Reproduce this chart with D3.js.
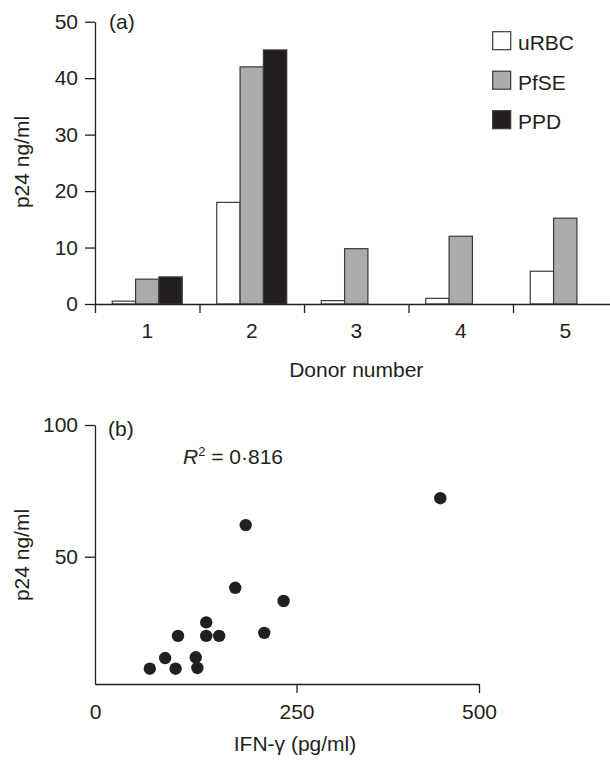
<!DOCTYPE html>
<html>
<head>
<meta charset="utf-8">
<script src="https://cdn.jsdelivr.net/npm/d3@7"></script>
<style>
  html, body { margin: 0; padding: 0; background: #fff; }
  svg { display: block; }
  text { font-family: "Liberation Sans", Arial, Helvetica, sans-serif; fill: #231f20; }
</style>
</head>
<body>
<script>
// ---------- DATA ----------
const donors = [1, 2, 3, 4, 5];
const seriesNames = ["uRBC", "PfSE", "PPD"];
const uRBC = [0.5, 18, 0.6, 1.0, 5.8];
const PfSE = [4.4, 42, 9.8, 12, 15.2];
const PPD  = [4.8, 45, null, null, null];
const yTicksA = [0, 10, 20, 30, 40, 50];

const ifnGamma = [68, 87, 100, 103, 125, 127, 138, 138, 154, 174, 187, 210, 234, 447];
const p24      = [6.0, 10.2, 6.0, 18.9, 10.5, 6.3, 24.2, 18.9, 18.9, 37.8, 62.0, 20.1, 32.6, 72.2];
const xTicksB = [0, 250, 500];
const yTicksB = [50, 100];

// ---------- SETUP ----------
const W = 610, H = 760;
const ink = "#231f20";
const fills = { uRBC: "#ffffff", PfSE: "#ababad", PPD: "#231f20" };
const FS = 21;

const svg = d3.select("body").append("svg").attr("width", W).attr("height", H);

// ================= PANEL (a) =================
const xA = d3.scaleLinear().domain([0.5, 5.5]).range([95, 617.5]);
const yA = d3.scaleLinear().domain([0, 50]).range([304, 21.7]);
const xSub = d3.scaleBand().domain(seriesNames).range([-35, 35]);
const valuesBySeries = { uRBC, PfSE, PPD };

const gA = svg.append("g");

// bars
seriesNames.forEach(s => {
  const data = donors.map((d, i) => ({ donor: d, v: valuesBySeries[s][i] })).filter(o => o.v != null);
  gA.selectAll(null).data(data).enter().append("rect")
    .attr("x", o => xA(o.donor) + xSub(s))
    .attr("y", o => yA(o.v))
    .attr("width", xSub.bandwidth())
    .attr("height", o => yA(0) - yA(o.v))
    .attr("fill", fills[s])
    .attr("stroke", "#3a3a3a")
    .attr("stroke-width", 1.2);
});

// y axis (a)
const yAxisA = d3.axisLeft(yA).tickValues(yTicksA).tickSize(10).tickSizeOuter(0).tickPadding(7);
gA.append("g").attr("transform", `translate(${xA(0.5)},0)`).call(yAxisA);

// x axis (a): boundary ticks
const boundaries = d3.range(0.5, 6, 1);
const xAxisA = d3.axisBottom(xA).tickValues(boundaries).tickSize(9).tickSizeOuter(0).tickFormat("");
gA.append("g").attr("transform", `translate(0,${yA(0)})`).call(xAxisA);
// category labels
gA.selectAll(null).data(donors).enter().append("text")
  .attr("x", d => xA(d)).attr("y", 338)
  .attr("text-anchor", "middle").attr("font-size", FS)
  .text(d => d);

// axis titles (a)
gA.append("text").attr("x", (xA.range()[0] + xA.range()[1]) / 2).attr("y", 377)
  .attr("text-anchor", "middle").attr("font-size", FS).text("Donor number");
gA.append("text").attr("transform", "translate(29,162) rotate(-90)")
  .attr("text-anchor", "middle").attr("font-size", FS).text("p24 ng/ml");
gA.append("text").attr("x", 109).attr("y", 29).attr("font-size", FS).text("(a)");

// legend
const leg = gA.append("g");
seriesNames.forEach((s, i) => {
  const yy = 31.7 + i * 39.5;
  leg.append("rect").attr("x", 492.7).attr("y", yy).attr("width", 18).attr("height", 18)
    .attr("fill", fills[s]).attr("stroke", "#3a3a3a").attr("stroke-width", 1.2);
  leg.append("text").attr("x", 518).attr("y", yy + 18.5).attr("font-size", FS).text(s);
});

// ================= PANEL (b) =================
const xB = d3.scaleLinear().domain([0, 250, 500]).range([95, 296.5, 479]);
const yB = d3.scaleLinear().domain([0, 50, 100]).range([684, 556.7, 425]);

const gB = svg.append("g");

const yAxisB = d3.axisLeft(yB).tickValues(yTicksB).tickSize(10).tickSizeOuter(0).tickPadding(7);
gB.append("g").attr("transform", `translate(${xB(0)},0)`).call(yAxisB);

const xAxisB = d3.axisBottom(xB).tickValues(xTicksB).tickSize(9).tickSizeOuter(0).tickPadding(11);
const gxB = gB.append("g").attr("transform", `translate(0,${yB(0)})`).call(xAxisB);
gxB.selectAll(".tick").filter(d => d === 0).select("line").remove();

// points
gB.selectAll(null).data(ifnGamma.map((x, i) => ({ x, y: p24[i] }))).enter().append("circle")
  .attr("cx", d => xB(d.x)).attr("cy", d => yB(d.y)).attr("r", 6.2).attr("fill", ink);

// titles (b)
gB.append("text").attr("x", 295).attr("y", 751)
  .attr("text-anchor", "middle").attr("font-size", FS).text("IFN-γ (pg/ml)");
gB.append("text").attr("transform", "translate(29,555) rotate(-90)")
  .attr("text-anchor", "middle").attr("font-size", FS).text("p24 ng/ml");
gB.append("text").attr("x", 108).attr("y", 436).attr("font-size", FS).text("(b)");
const r2 = gB.append("text").attr("x", 183).attr("y", 464).attr("font-size", FS);
r2.append("tspan").attr("font-style", "italic").text("R");
r2.append("tspan").attr("font-size", 13).attr("dy", -8).text("2");
r2.append("tspan").attr("dy", 8).text(" = 0·816");

// style axes
svg.selectAll(".domain, .tick line").attr("stroke", ink).attr("stroke-width", 1.3);
svg.selectAll(".tick text").attr("font-size", FS).attr("fill", ink)
  .style("font-family", '"Liberation Sans", Arial, Helvetica, sans-serif');
</script>
</body>
</html>
